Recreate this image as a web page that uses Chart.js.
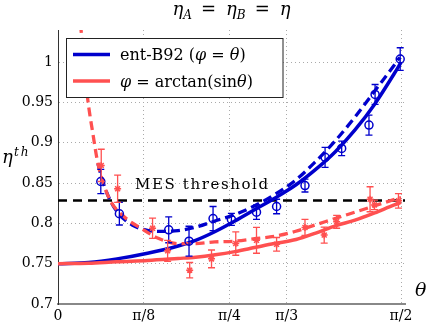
<!DOCTYPE html>
<html>
<head>
<meta charset="utf-8">
<script src="https://cdn.jsdelivr.net/npm/chart.js@4.4.0/dist/chart.umd.min.js"></script>
<style>
  html, body { margin: 0; padding: 0; background: #fff; }
  #wrap { width: 436px; height: 328px; }
</style>
</head>
<body>
<div id="wrap"><canvas id="chart" width="436" height="328"></canvas></div>
<script>
// Axis ticks
const xTickValues = [0, Math.PI / 8, Math.PI / 4, Math.PI / 3, Math.PI / 2];
const xTickLabels = ["0", "π/8", "π/4", "π/3", "π/2"];
const yTickValues = [0.7, 0.75, 0.8, 0.85, 0.9, 0.95, 1];
const yTickLabels = ["0.7", "0.75", "0.8", "0.85", "0.9", "0.95", "1"];

// MES threshold level
const mesThreshold = 0.8284;

// Theory curves (solid lines)
const thetaTheory = [0.00, 0.14, 0.27, 0.41, 0.55, 0.63, 0.72, 0.81, 0.90, 0.99, 1.09, 1.18, 1.27, 1.36, 1.45, 1.54, 1.571];
const blueTheory = [0.750, 0.7515, 0.756, 0.763, 0.772, 0.779, 0.790, 0.803, 0.817, 0.831, 0.848, 0.867, 0.889, 0.916, 0.948, 0.986, 1.000];
const redTheory = [0.750, 0.7505, 0.7525, 0.754, 0.7565, 0.758, 0.761, 0.765, 0.770, 0.775, 0.780, 0.788, 0.797, 0.804, 0.813, 0.823, 0.826];

// Fits through the measurements (dashed lines)
const thetaRedFit = [0.098, 0.106, 0.122, 0.137, 0.160, 0.183, 0.21, 0.242, 0.304, 0.380, 0.456, 0.548, 0.626, 0.718, 0.810, 0.901, 0.993, 1.085, 1.177, 1.268, 1.360, 1.452, 1.544, 1.571];
const redFit = [1.065, 1.039, 0.99, 0.952, 0.911, 0.874, 0.848, 0.827, 0.808, 0.794, 0.782, 0.775, 0.775, 0.777, 0.778, 0.781, 0.784, 0.790, 0.798, 0.806, 0.814, 0.822, 0.830, 0.832];
const thetaBlueFit = [0.183, 0.21, 0.242, 0.281, 0.34, 0.40, 0.46, 0.55, 0.626, 0.718, 0.810, 0.901, 0.993, 1.085, 1.177, 1.268, 1.360, 1.452, 1.544, 1.565];
const blueFit = [0.874, 0.848, 0.827, 0.811, 0.798, 0.792, 0.790, 0.791, 0.795, 0.803, 0.811, 0.822, 0.836, 0.853, 0.876, 0.902, 0.932, 0.965, 0.998, 1.006];

// Measured points with error bars
const thetaBlueMeas = [0.196, 0.281, 0.507, 0.600, 0.710, 0.794, 0.909, 1.001, 1.131, 1.223, 1.299, 1.424, 1.452, 1.567];
const blueMeas = [0.852, 0.812, 0.792, 0.778, 0.806, 0.805, 0.814, 0.821, 0.847, 0.882, 0.893, 0.922, 0.960, 1.004];
const blueErr = [0.015, 0.014, 0.016, 0.0185, 0.015, 0.0075, 0.009, 0.009, 0.008, 0.0124, 0.009, 0.0124, 0.0124, 0.014];

const thetaRedMeas = [0.198, 0.273, 0.433, 0.502, 0.603, 0.703, 0.814, 0.909, 1.001, 1.131, 1.219, 1.276, 1.429, 1.449, 1.559];
const redMeas = [0.872, 0.843, 0.794, 0.766, 0.742, 0.756, 0.775, 0.779, 0.774, 0.795, 0.7855, 0.802, 0.830, 0.823, 0.828];
const redErr = [0.02, 0.017, 0.0125, 0.013, 0.0095, 0.011, 0.0145, 0.016, 0.0085, 0.010, 0.010, 0.008, 0.0155, 0.006, 0.009];

const BLUE = "#0000cc";
const RED = "#ff5050";
const SERIF = '"DejaVu Serif", serif';

const toXY = (xs, ys) => xs.map((x, i) => ({ x: x, y: ys[i] }));

// Vertical error bars with caps
const errorBarPlugin = {
    id: "errorBars",
    afterDatasetsDraw(chart) {
        const { ctx, scales: { x, y } } = chart;
        chart.data.datasets.forEach((ds) => {
            if (!ds.errors) return;
            ctx.save();
            ctx.strokeStyle = ds.borderColor;
            ctx.lineWidth = 1.3;
            ds.data.forEach((p, j) => {
                const px = x.getPixelForValue(p.x);
                const top = y.getPixelForValue(p.y + ds.errors[j]);
                const bot = y.getPixelForValue(p.y - ds.errors[j]);
                ctx.beginPath();
                ctx.moveTo(px, top); ctx.lineTo(px, bot);
                ctx.moveTo(px - 3.5, top); ctx.lineTo(px + 3.5, top);
                ctx.moveTo(px - 3.5, bot); ctx.lineTo(px + 3.5, bot);
                ctx.stroke();
            });
            ctx.restore();
        });
    }
};

// Draw a row of text pieces: [text, font, dy, gapBefore]
function drawRich(ctx, parts, x, y, align) {
    let w = 0;
    parts.forEach(p => { ctx.font = p[1]; w += (p[3] || 0) + ctx.measureText(p[0]).width; });
    let cx = align === "center" ? x - w / 2 : x;
    parts.forEach(p => {
        ctx.font = p[1];
        cx += p[3] || 0;
        ctx.fillText(p[0], cx, y + (p[2] || 0));
        cx += ctx.measureText(p[0]).width;
    });
}

// Title, axis labels, threshold text and legend
const textPlugin = {
    id: "texts",
    afterDraw(chart) {
        const { ctx, chartArea } = chart;
        const it18 = "italic 18px " + SERIF;
        const it12 = "italic 12px " + SERIF;
        const rm18 = "18px " + SERIF;
        const it16 = "italic 16px " + SERIF;
        const rm16 = "16px " + SERIF;
        ctx.save();
        ctx.fillStyle = "#000";
        ctx.textBaseline = "alphabetic";

        // title
        const cx = (chartArea.left + chartArea.right) / 2;
        drawRich(ctx, [
            ["η", it18], ["A", it12, 4], ["=", rm18, 0, 9], ["η", it18, 0, 10], ["B", it12, 4],
            ["=", rm18, 0, 9], ["η", it18, 0, 10]
        ], cx, 15, "center");

        // y label
        ctx.font = it18;
        ctx.fillText("η", 2, 163);
        ctx.font = it12;
        ctx.letterSpacing = "2px";
        ctx.fillText("th", 14, 156);
        ctx.letterSpacing = "0px";

        // x label
        ctx.font = "italic 19px " + SERIF;
        ctx.fillText("θ", 415, 296);

        // threshold text
        ctx.font = "15px " + SERIF;
        ctx.letterSpacing = "1.6px";
        ctx.fillText("MES threshold", 135, 189);
        ctx.letterSpacing = "0px";

        // legend box
        const lx = chartArea.left + 8.5, ly = 38.5, lw = 216.5, lh = 59;
        ctx.fillStyle = "#fff";
        ctx.fillRect(lx, ly, lw, lh);
        ctx.strokeStyle = "#222";
        ctx.lineWidth = 1;
        ctx.strokeRect(lx, ly, lw, lh);
        const rows = [
            { color: BLUE, y: 54.5, parts: [["ent-B92 (", rm16], ["φ", it16], [" = ", rm16], ["θ", it16], [")", rm16]] },
            { color: RED, y: 81, parts: [["φ", it16], [" = arctan(sin", rm16], ["θ", it16], [")", rm16]] }
        ];
        rows.forEach(r => {
            ctx.strokeStyle = r.color;
            ctx.lineWidth = 3.5;
            ctx.beginPath();
            ctx.moveTo(lx + 6.5, r.y);
            ctx.lineTo(lx + 43.5, r.y);
            ctx.stroke();
            ctx.fillStyle = "#000";
            drawRich(ctx, r.parts, lx + 53.5, r.y + 5.5);
        });
        ctx.restore();
    }
};

const ctx = document.getElementById("chart").getContext("2d");
new Chart(ctx, {
    type: "scatter",
    data: {
        datasets: [
            {
                label: "MES threshold",
                data: [{ x: 0, y: mesThreshold }, { x: 1.589, y: mesThreshold }],
                showLine: true, borderColor: "#000", borderWidth: 2.5, borderDash: [9, 6],
                pointRadius: 0, order: 6
            },
            {
                label: "ent-B92 (φ = θ)",
                data: toXY(thetaTheory, blueTheory),
                showLine: true, borderColor: BLUE, borderWidth: 3.5,
                cubicInterpolationMode: "monotone", pointRadius: 0, order: 5
            },
            {
                label: "ent-B92 fit",
                data: toXY(thetaBlueFit, blueFit),
                showLine: true, borderColor: BLUE, borderWidth: 3.3, borderDash: [9, 5],
                cubicInterpolationMode: "monotone", pointRadius: 0, order: 4
            },
            {
                label: "φ = arctan(sinθ)",
                data: toXY(thetaTheory, redTheory),
                showLine: true, borderColor: RED, borderWidth: 3.5,
                cubicInterpolationMode: "monotone", pointRadius: 0, order: 3
            },
            {
                label: "arctan fit",
                data: toXY(thetaRedFit, redFit),
                showLine: true, borderColor: RED, borderWidth: 3.3, borderDash: [9, 5],
                cubicInterpolationMode: "monotone", pointRadius: 0, order: 2, clip: 0
            },
            {
                label: "ent-B92 measured",
                data: toXY(thetaBlueMeas, blueMeas),
                errors: blueErr,
                borderColor: BLUE, backgroundColor: "rgba(0,0,0,0)",
                pointStyle: "circle", pointRadius: 4, pointBorderWidth: 1.5, order: 1
            },
            {
                label: "arctan measured",
                data: toXY(thetaRedMeas, redMeas),
                errors: redErr,
                borderColor: RED, backgroundColor: RED,
                pointStyle: "star", pointRadius: 3.5, pointBorderWidth: 1.5, order: 0
            }
        ]
    },
    options: {
        responsive: false,
        animation: false,
        layout: { padding: { top: 30, right: 31, left: 0, bottom: 0 } },
        plugins: {
            legend: { display: false },
            tooltip: { enabled: false },
            title: { display: false }
        },
        scales: {
            x: {
                type: "linear", min: 0, max: 1.589,
                afterBuildTicks: s => { s.ticks = xTickValues.map(v => ({ value: v })); },
                afterFit: s => { s.height = 24; },
                ticks: {
                    callback: (v, i) => xTickLabels[i],
                    font: { family: SERIF, size: 14 }, color: "#000",
                    padding: 4, maxRotation: 0, autoSkip: false
                },
                grid: { color: "#aaa", lineWidth: 1, drawTicks: false },
                border: { color: "#888", width: 2, dash: [1, 3] }
            },
            y: {
                min: 0.7, max: 1.04,
                afterBuildTicks: s => { s.ticks = yTickValues.map(v => ({ value: v })); },
                afterFit: s => { s.width = 58; },
                ticks: {
                    callback: (v, i) => yTickLabels[i],
                    font: { family: SERIF, size: 14 }, color: "#000",
                    padding: 5, autoSkip: false
                },
                grid: { color: "#aaa", lineWidth: 1, drawTicks: false },
                border: { color: "#333", width: 1, dash: [1, 3] }
            }
        }
    },
    plugins: [errorBarPlugin, textPlugin]
});
</script>
</body>
</html>
